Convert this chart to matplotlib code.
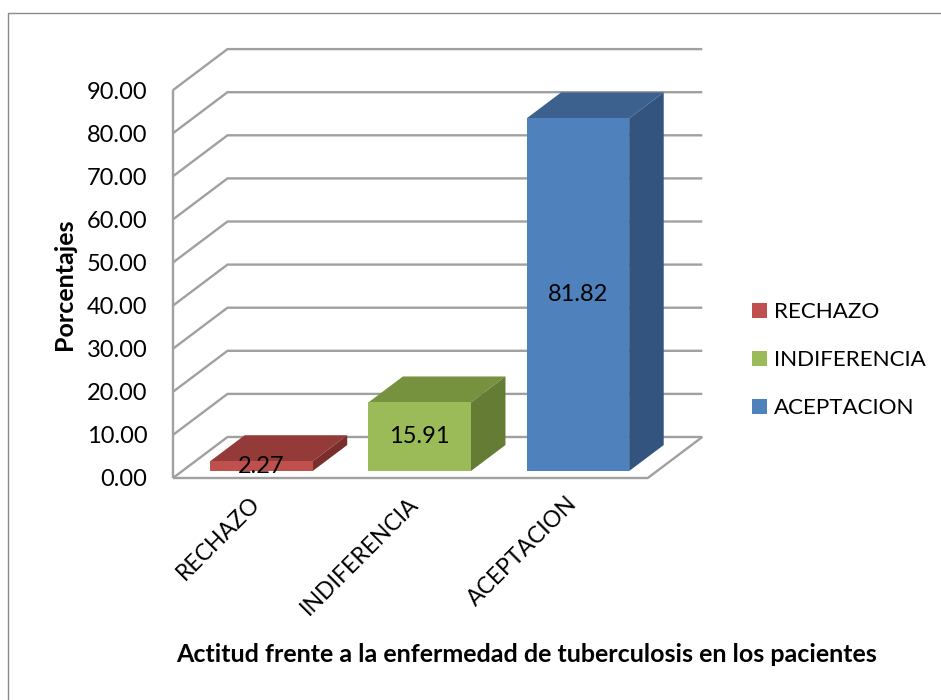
import numpy as np
import matplotlib
matplotlib.use('Agg')
import matplotlib.pyplot as plt
from matplotlib.patches import Polygon, Rectangle, Patch

# ---- data ----
categories = ['RECHAZO', 'INDIFERENCIA', 'ACEPTACION']
values = [2.27, 15.91, 81.82]
y_ticks = [0, 10, 20, 30, 40, 50, 60, 70, 80, 90]
x_title = 'Actitud frente a la enfermedad de tuberculosis en los pacientes'
y_title = 'Porcentajes'

# ---- style ----
front_colors = ['#C0504D', '#9BBB59', '#4F81BD']
top_colors = ['#943A38', '#77923F', '#3D618F']
side_colors = ['#7A2E2C', '#657C35', '#33547E']

plt.rcParams['font.family'] = ['Lato', 'DejaVu Sans']

W, H = 941, 700
fig = plt.figure(figsize=(W / 100, H / 100), dpi=100)

XU, YU = 158.25, 4.31          # pixels per data unit
DX, DY = 54.5 / XU, 41 / YU    # full depth of the 3D box in data units
xmin, xmax = -0.5, 2.5 + DX
ymin, ymax = 0, 100
ax = fig.add_axes([173 / W, 1 - 478 / H, (xmax - xmin) * XU / W, (ymax - ymin) * YU / H])
ax.set_xlim(xmin, xmax)
ax.set_ylim(ymin, ymax)
for s in ax.spines.values():
    s.set_visible(False)
ax.patch.set_visible(False)

# walls / gridlines
grid_kw = dict(color='#A0A0A0', lw=1.7, solid_capstyle='butt', solid_joinstyle='miter',
               zorder=1, clip_on=False)
for v in y_ticks:
    ax.plot([xmin, xmin + DX, 2.5 + DX], [v, v + DY, v + DY], **grid_kw)
ax.plot([xmin, xmin], [0, y_ticks[-1]], **grid_kw)
ax.plot([xmin, 2.5, 2.5 + DX], [0, 0, DY], **grid_kw)

# bars
x = np.arange(len(categories))
f0, fb = 0.17, 0.634
bw = 0.648
ox, oy = f0 * DX, f0 * DY
bx, by = fb * DX, fb * DY
ax.bar(x + ox, values, width=bw, bottom=oy, color=front_colors, zorder=3, clip_on=False)
for i, v in enumerate(values):
    x0 = x[i] + ox - bw / 2
    x1 = x0 + bw
    y0, y1 = oy, oy + v
    ax.add_patch(Polygon([(x0, y1), (x1, y1), (x1 + bx, y1 + by), (x0 + bx, y1 + by)],
                         closed=True, fc=top_colors[i], ec='none', zorder=2, clip_on=False))
    ax.add_patch(Polygon([(x1, y0), (x1 + bx, y0 + by), (x1 + bx, y1 + by), (x1, y1)],
                         closed=True, fc=side_colors[i], ec='none', zorder=2, clip_on=False))
    ax.text(x[i] + ox, y0 + v / 2, f'{v:.2f}', ha='center', va='center',
            fontsize=17, zorder=5)

# y axis ticks
ax.set_yticks(y_ticks)
ax.set_yticklabels([f'{t:.2f}' for t in y_ticks])
ax.tick_params(axis='y', length=0, pad=18.5, labelsize=17)

# x axis ticks
ax.set_xticks(x + 0.03)
ax.set_xticklabels(categories)
ax.tick_params(axis='x', length=0, pad=16, labelsize=16.5)
plt.setp(ax.get_xticklabels(), rotation=45, ha='right', va='center', rotation_mode='anchor')

# legend
handles = [Patch(fc=c, ec='none') for c in front_colors]
ax.legend(handles, categories, loc='upper left', bbox_to_anchor=(752 / W, 1 - 302.5 / H),
          bbox_transform=fig.transFigure, frameon=False, fontsize=16.1,
          handlelength=0.68, handleheight=0.68, handletextpad=0.32, labelspacing=1.25,
          borderpad=0, borderaxespad=0)

# titles
fig.text(526.5 / W, 1 - 654 / H, x_title, ha='center', va='center',
         fontsize=18, fontweight='bold')
fig.text(65 / W, 1 - 284 / H, y_title, ha='center', va='center', rotation=90,
         fontsize=18, fontweight='bold')

# chart frame
fig.add_artist(Rectangle((8 / W, -0.1), 1.2, 1 - 13 / H + 0.1, transform=fig.transFigure,
                         fill=False, ec='#8A8A8A', lw=1))

fig.savefig('out.png', dpi=100)
